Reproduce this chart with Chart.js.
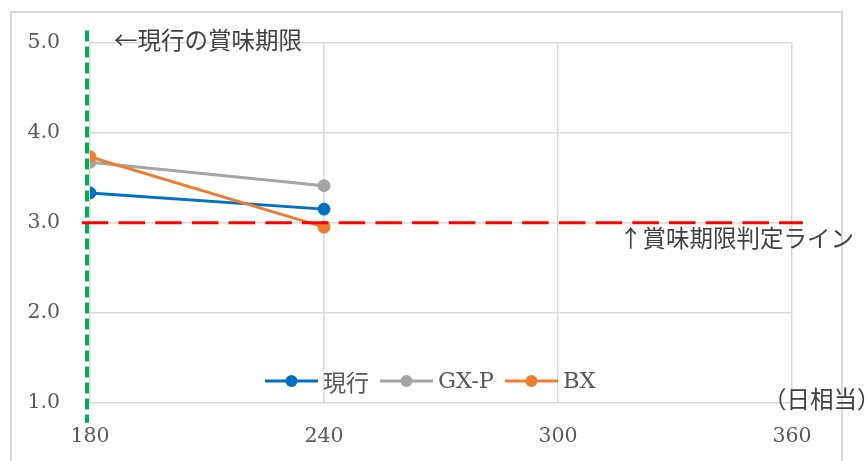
<!DOCTYPE html>
<html>
<head>
<meta charset="utf-8">
<script src="https://cdn.jsdelivr.net/npm/chart.js@4/dist/chart.umd.min.js"></script>
<style>
  html, body { margin: 0; padding: 0; background: #ffffff; }
  canvas { display: block; }
</style>
</head>
<body>
<canvas id="chart" width="866" height="461"></canvas>
<script>
// 保存日数（日相当）ごとの評価点
const days = [180, 240];
const genkou = [3.33, 3.15];   // 現行
const gxp = [3.67, 3.41];      // GX-P
const bx = [3.73, 2.95];       // BX

const seriesNames = ['現行', 'GX-P', 'BX'];
const seriesColors = ['#0070C0', '#A5A5A5', '#ED7D31'];

const xTicks = [180, 240, 300, 360];
const yTicks = [1.0, 2.0, 3.0, 4.0, 5.0];

// 賞味期限判定ライン（評価点 3.0）と、その横方向の描画範囲
const judgeLine = 3.0;
const judgeSpan = [177.9, 362.8];

// 現行の賞味期限を示す縦線と、その縦方向の描画範囲
const currentLimit = 179.23;
const limitSpan = [5.13, 0.78];

const SERIF = "'DejaVu Serif', 'Noto Sans CJK JP', serif";
const JP = "'Noto Sans CJK JP', 'DejaVu Serif', sans-serif";

// 外枠
const framePlugin = {
  id: 'frame',
  beforeDraw(chart) {
    const ctx = chart.ctx;
    ctx.save();
    ctx.fillStyle = '#ffffff';
    ctx.fillRect(0, 0, chart.width, chart.height);
    ctx.strokeStyle = '#D9D9D9';
    ctx.lineWidth = 2;
    ctx.strokeRect(11, 12, 831, 480);
    ctx.restore();
  }
};

// 凡例（プロット領域の下部に配置）
const legendPlugin = {
  id: 'innerLegend',
  afterDraw(chart) {
    const ctx = chart.ctx;
    const a = chart.chartArea;
    ctx.save();
    ctx.textBaseline = 'middle';
    ctx.textAlign = 'left';
    const y = a.bottom - 22;
    let x = a.left + 175;
    seriesNames.forEach((name, i) => {
      ctx.strokeStyle = seriesColors[i];
      ctx.lineWidth = 3;
      ctx.beginPath();
      ctx.moveTo(x, y);
      ctx.lineTo(x + 53, y);
      ctx.stroke();
      ctx.fillStyle = seriesColors[i];
      ctx.beginPath();
      ctx.arc(x + 26.5, y, 6, 0, Math.PI * 2);
      ctx.fill();
      ctx.fillStyle = '#595959';
      ctx.font = (/^[\x00-\x7F]+$/.test(name) ? '22.5px ' + SERIF : '23px ' + JP);
      ctx.fillText(name, x + 58, y + 1);
      x += 58 + ctx.measureText(name).width + 11;
    });
    ctx.restore();
  }
};

// 注記テキスト
const notePlugin = {
  id: 'notes',
  afterDraw(chart) {
    const ctx = chart.ctx;
    const xs = chart.scales.x, ys = chart.scales.y;
    ctx.save();
    ctx.textBaseline = 'middle';
    ctx.textAlign = 'left';
    ctx.font = '23.5px ' + JP;
    ctx.fillStyle = '#404040';
    ctx.fillText('←現行の賞味期限', xs.getPixelForValue(180) + 24, ys.getPixelForValue(5) - 2);
    ctx.fillText('↑賞味期限判定ライン', xs.getPixelForValue(360) - 173, ys.getPixelForValue(judgeLine) + 15);
    ctx.fillText('（日相当）', xs.getPixelForValue(360) - 29, ys.getPixelForValue(1) - 4);
    ctx.restore();
  }
};

const toPoints = (vals) => days.map((d, i) => ({ x: d, y: vals[i] }));

const seriesDataset = (i, vals, order) => ({
  label: seriesNames[i],
  data: toPoints(vals),
  borderColor: seriesColors[i],
  backgroundColor: seriesColors[i],
  pointBackgroundColor: seriesColors[i],
  pointBorderColor: seriesColors[i],
  borderWidth: 3,
  pointRadius: 6,
  pointBorderWidth: 1,
  tension: 0,
  order: order
});

new Chart(document.getElementById('chart'), {
  type: 'line',
  data: {
    datasets: [
      seriesDataset(0, genkou, 3),
      seriesDataset(1, gxp, 2),
      seriesDataset(2, bx, 1),
      {
        label: '賞味期限判定ライン',
        data: judgeSpan.map(x => ({ x: x, y: judgeLine })),
        borderColor: '#FF0000',
        borderWidth: 3,
        borderDash: [26.5, 10.2],
        pointRadius: 0,
        clip: false,
        order: 0
      },
      {
        label: '現行の賞味期限',
        data: limitSpan.map(y => ({ x: currentLimit, y: y })),
        borderColor: '#00B050',
        borderWidth: 4,
        borderDash: [11, 5],
        pointRadius: 0,
        clip: false,
        order: 0
      }
    ]
  },
  options: {
    responsive: false,
    animation: false,
    layout: { padding: { left: 0, top: 36, right: 74, bottom: 0 } },
    plugins: {
      legend: { display: false },
      tooltip: { enabled: false }
    },
    scales: {
      x: {
        type: 'linear',
        min: 180,
        max: 360,
        afterBuildTicks: (s) => { s.ticks = xTicks.map(v => ({ value: v })); },
        afterFit: (s) => { s.height = 58; },
        ticks: {
          font: { family: SERIF, size: 20.5 },
          color: '#595959',
          padding: 21,
          maxRotation: 0
        },
        grid: { color: '#D9D9D9', lineWidth: 1.5, drawTicks: false },
        border: { display: false }
      },
      y: {
        type: 'linear',
        min: 1,
        max: 5,
        afterBuildTicks: (s) => { s.ticks = yTicks.map(v => ({ value: v })); },
        afterFit: (s) => { s.width = 90; },
        ticks: {
          font: { family: SERIF, size: 20.5 },
          color: '#595959',
          padding: 30,
          callback: (v) => Number(v).toFixed(1)
        },
        grid: { color: '#D9D9D9', lineWidth: 1.5, drawTicks: false },
        border: { display: false }
      }
    }
  },
  plugins: [framePlugin, legendPlugin, notePlugin]
});
</script>
</body>
</html>
